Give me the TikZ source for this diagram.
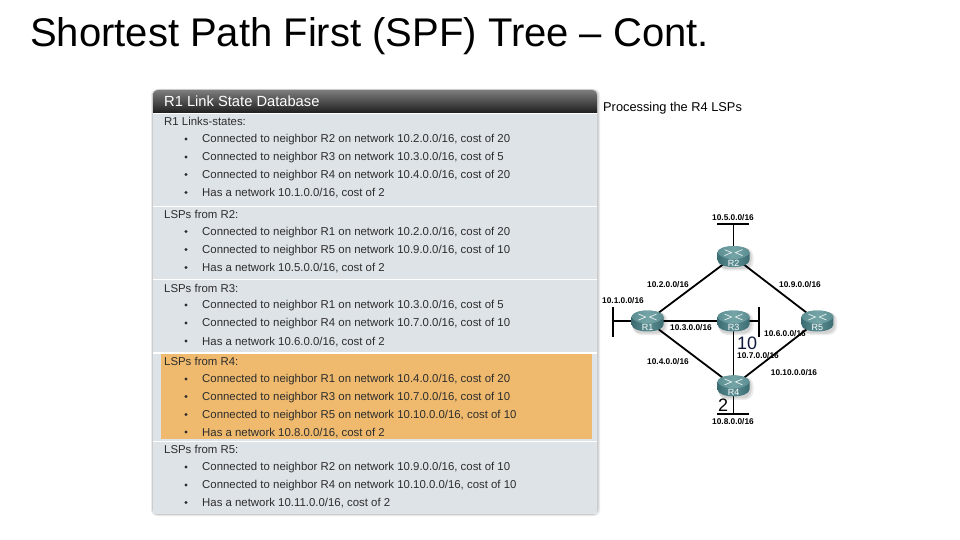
\documentclass[tikz,border=0pt]{standalone}
\usepackage{fontspec}
\setmainfont{Liberation Sans}
\usetikzlibrary{shapes.geometric, arrows.meta, positioning}
\definecolor{panelgrey}{RGB}{222, 227, 232}
\definecolor{lsporange}{RGB}{239, 186, 110}
\definecolor{headdark}{RGB}{30, 30, 30}
\definecolor{headlite}{RGB}{125, 125, 125}
\definecolor{routerteal}{RGB}{58, 108, 114}
\definecolor{routermid}{RGB}{92, 142, 146}
\definecolor{routertop}{RGB}{116, 164, 166}
\definecolor{listtext}{RGB}{45, 45, 45}
\definecolor{costblue}{RGB}{15, 25, 60}
\tikzset{
  title/.style={anchor=west, inner sep=0pt, font=\fontsize{40}{42}\selectfont},
  section/.style={anchor=north west, inner sep=0pt, minimum width=444pt, fill=panelgrey},
  heading/.style={anchor=west, inner sep=0pt, text=listtext, font=\fontsize{11.4}{13}\selectfont},
  entry/.style={anchor=west, inner sep=0pt, text=listtext, font=\fontsize{11.4}{13}\selectfont},
  bullet/.style={circle, fill=listtext, inner sep=0pt, minimum size=3.4pt},
  router/.style={rectangle, inner sep=0pt, minimum width=33pt, minimum height=23pt},
  link/.style={line width=1.8pt, color=black},
  netlabel/.style={inner sep=0pt, text height=6pt, text depth=1pt, font=\fontsize{8.3}{9}\bfseries\selectfont},
  cost/.style={inner sep=0pt, text height=12.5pt, text depth=0pt, font=\fontsize{18}{20}\selectfont},
}
\newcommand{\routericon}[2]{%
  \begin{scope}[shift={(#1.center)}]
    \fill[black, opacity=0.08, rounded corners=9pt] (-15,-9) rectangle (20,14);
    \fill[black, opacity=0.10, rounded corners=8pt] (-15,-9) rectangle (18,12.5);
    \shade[left color=routerteal, right color=routerteal, middle color=routermid]
      (-16,-4) -- (-16,3.5) .. controls (-16,8) and (-8,10.5) .. (0,10.5)
      .. controls (8,10.5) and (16,8) .. (16,3.5) -- (16,-4)
      .. controls (16,-8) and (8,-10.5) .. (0,-10.5)
      .. controls (-8,-10.5) and (-16,-8) .. cycle;
    \shade[left color=routermid, right color=routermid, middle color=routertop]
      (-16,-4) .. controls (-16,-1) and (-8,2.5) .. (0,2.5)
      .. controls (8,2.5) and (16,-1) .. (16,-4)
      .. controls (16,-8) and (8,-10.5) .. (0,-10.5)
      .. controls (-8,-10.5) and (-16,-8) .. cycle;
    \draw[white, opacity=0.85, line width=0.7pt] (-9,-7) -- (-2,-4) -- (-9,-1) (9,-7) -- (2,-4) -- (9,-1);
    \node[inner sep=0pt, text=white, font=\fontsize{9}{10}\selectfont] at (0,6.5) {#2};
  \end{scope}}
\begin{document}
\begin{tikzpicture}[x=1pt, y=-1pt]
  \useasboundingbox (0,0) rectangle (960,540);
  \node[title] (head) at (30,36) {Shortest Path First (SPF) Tree – Cont.};

  % Database panel
  \fill[black!8, rounded corners=6pt] (151,89) rectangle (600,516);
  \fill[black!20, rounded corners=6pt] (152,89.5) rectangle (598.5,515);
  \fill[white] (153,113) rectangle (597,514);
  \node[section, minimum height=92pt] (sa) at (153,114) {};
  \node[section, minimum height=72pt] (sb) at (153,207) {};
  \node[section, minimum height=72pt] (sc) at (153,280) {};
  \node[section, minimum height=87pt] (sd) at (153,353.5) {};
  \node[section, minimum height=72pt] (se) at (153,441.5) {};
  \node[fill=lsporange, anchor=north west, inner sep=0pt, minimum width=431pt, minimum height=85pt] (mark) at (161,354) {};
  \shade[top color=headlite, bottom color=headdark]
    (153,113) -- (153,96) .. controls (153,92) and (155,90) .. (159,90) -- (591,90)
    .. controls (595,90) and (597,92) .. (597,96) -- (597,113) -- cycle;
  \node[anchor=west, inner sep=0pt, text=white, font=\fontsize{14.7}{16}\selectfont] (dbname) at (164,101) {R1 Link State Database};

  \node[heading] (ha) at (164,121.5) {R1 Links-states:};
  \foreach \ypos/\txt in {
      140/{Connected to neighbor R2 on network 10.2.0.0/16, cost of 20},
      158/{Connected to neighbor R3 on network 10.3.0.0/16, cost of 5},
      175.5/{Connected to neighbor R4 on network 10.4.0.0/16, cost of 20},
      193.5/{Has a network 10.1.0.0/16, cost of 2},
      232.5/{Connected to neighbor R1 on network 10.2.0.0/16, cost of 20},
      250.5/{Connected to neighbor R5 on network 10.9.0.0/16, cost of 10},
      268.5/{Has a network 10.5.0.0/16, cost of 2},
      306/{Connected to neighbor R1 on network 10.3.0.0/16, cost of 5},
      324/{Connected to neighbor R4 on network 10.7.0.0/16, cost of 10},
      342/{Has a network 10.6.0.0/16, cost of 2},
      380/{Connected to neighbor R1 on network 10.4.0.0/16, cost of 20},
      397.5/{Connected to neighbor R3 on network 10.7.0.0/16, cost of 10},
      415.5/{Connected to neighbor R5 on network 10.10.0.0/16, cost of 10},
      433/{Has a network 10.8.0.0/16, cost of 2},
      468/{Connected to neighbor R2 on network 10.9.0.0/16, cost of 10},
      486/{Connected to neighbor R4 on network 10.10.0.0/16, cost of 10},
      503.5/{Has a network 10.11.0.0/16, cost of 2}} {
    \node[bullet] at (186,\ypos-1) {};
    \node[entry] at (202,\ypos) {\txt};
  }
  \node[heading] (hb) at (164,214.5) {LSPs from R2:};
  \node[heading] (hc) at (164,288) {LSPs from R3:};
  \node[heading] (hd) at (164,361.5) {LSPs from R4:};
  \node[heading] (he) at (164,449.5) {LSPs from R5:};

  \node[anchor=west, inner sep=0pt, font=\fontsize{12.8}{14}\selectfont] (caption) at (603,108) {Processing the R4 LSPs};

  % Routers
  \node[router] (r3) at (733.5,321) {};
  \node[router, left=52.5pt of r3] (r1) {};
  \node[router, right=50.5pt of r3] (r5) {};
  \node[router, above=41pt of r3] (r2) {};
  \node[router, below=41.5pt of r3] (r4) {};

  \coordinate (n5a) at (717,224);
  \coordinate (n5b) at (749,224);
  \coordinate (n5) at (733.5,224);
  \coordinate (n1a) at (613,307);
  \coordinate (n1b) at (613,337);
  \coordinate (n1) at (613,321);
  \coordinate (n6a) at (759,307);
  \coordinate (n6b) at (759,337);
  \coordinate (n6) at (759,321);
  \coordinate (n8a) at (717,414);
  \coordinate (n8b) at (749,414);
  \coordinate (n8) at (733.5,414);

  \foreach \source/\target in {n5a/n5b, n1a/n1b, n6a/n6b, n8a/n8b, n5/r2, r2/r1, r2/r5, n1/r1, r1/r3, r3/n6, r3/r4, r1/r4, r5/r4, r4/n8}
    \draw[link] (\source.center) -- (\target.center);

  \foreach \rt/\nm in {r1/R1, r2/R2, r3/R3, r4/R4, r5/R5} {
    \routericon{\rt}{\nm}
  }

  % Networks
  \node[netlabel] (l5) at (733,218) {10.5.0.0/16};
  \node[netlabel] (l2) at (668,285) {10.2.0.0/16};
  \node[netlabel] (l9) at (800,285) {10.9.0.0/16};
  \node[netlabel] (l1) at (623,301) {10.1.0.0/16};
  \node[netlabel] (l3) at (691,328) {10.3.0.0/16};
  \node[netlabel] (l6) at (785,334) {10.6.0.0/16};
  \node[netlabel] (l4) at (668,362) {10.4.0.0/16};
  \node[netlabel] (l7) at (758,356) {10.7.0.0/16};
  \node[netlabel] (l10) at (794,373) {10.10.0.0/16};
  \node[netlabel] (l8) at (733,422) {10.8.0.0/16};
  \node[cost, text=costblue] (c10) at (747,343) {10};
  \node[cost] (c2) at (723,405.5) {2};
\end{tikzpicture}
\end{document}
